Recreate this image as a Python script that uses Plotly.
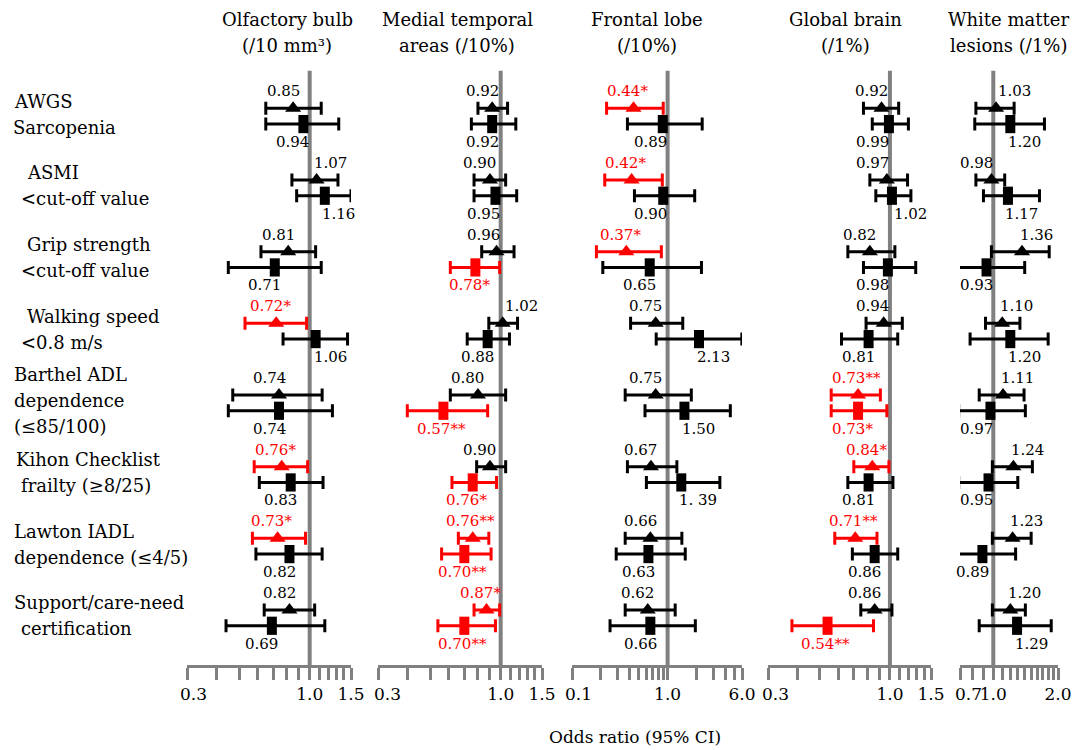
import math
import plotly.graph_objects as go

# ---------------- data ----------------
ROW_LABELS = [
    ["AWGS", "Sarcopenia"],
    ["ASMI", "&lt;cut-off value"],
    ["Grip strength", "&lt;cut-off value"],
    ["Walking speed", "&lt;0.8 m/s"],
    ["Barthel ADL", "dependence", "(≤85/100)"],
    ["Kihon Checklist", "frailty (≥8/25)"],
    ["Lawton IADL", "dependence (≤4/5)"],
    ["Support/care-need", "certification"],
]
PANEL_TITLES = [
    ["Olfactory bulb", "(/10 mm³)"],
    ["Medial temporal", "areas (/10%)"],
    ["Frontal lobe", "(/10%)"],
    ["Global brain", "(/1%)"],
    ["White matter", "lesions (/1%)"],
]
AXIS_MIN = [0.3, 0.3, 0.1, 0.3, 0.7]
AXIS_MAX = [1.5, 1.5, 6.0, 1.5, 2.0]
TICKS_STD = [0.3, 0.4, 0.5, 0.6, 0.7, 0.8, 0.9, 1.0, 1.1, 1.2, 1.3, 1.4, 1.5]
TICKS_FRONTAL = [0.1, 0.2, 0.3, 0.4, 0.5, 0.6, 0.7, 0.8, 0.9, 1.0, 2.0, 3.0, 4.0, 5.0, 6.0]
TICKS_WML = [0.7, 0.8, 0.9, 1.0, 1.1, 1.2, 1.3, 1.4, 1.5, 1.6, 1.7, 1.8, 1.9, 2.0]
LABELED_TICKS = [[0.3, 1.0, 1.5], [0.3, 1.0, 1.5], [0.1, 1.0, 6.0], [0.3, 1.0, 1.5], [0.7, 1.0, 2.0]]
LABELED_TEXT = [["0.3", "1.0", "1.5"], ["0.3", "1.0", "1.5"], ["0.1", "1.0", "6.0"],
                ["0.3", "1.0", "1.5"], ["0.7", "1.0", "2.0"]]
X_TITLE = "Odds ratio (95% CI)"

# Olfactory bulb
OB_A_OR = [0.85, 1.07, 0.81, 0.72, 0.74, 0.76, 0.73, 0.82]
OB_A_LO = [0.65, 0.84, 0.62, 0.53, 0.47, 0.58, 0.57, 0.64]
OB_A_HI = [1.12, 1.32, 1.06, 0.97, 1.13, 0.98, 0.96, 1.05]
OB_A_TXT = ["0.85", "1.07", "0.81", "0.72*", "0.74", "0.76*", "0.73*", "0.82"]
OB_B_OR = [0.94, 1.16, 0.71, 1.06, 0.74, 0.83, 0.82, 0.69]
OB_B_LO = [0.65, 0.88, 0.45, 0.77, 0.45, 0.61, 0.59, 0.44]
OB_B_HI = [1.33, 1.50, 1.12, 1.45, 1.25, 1.14, 1.13, 1.16]
OB_B_TXT = ["0.94", "1.16", "0.71", "1.06", "0.74", "0.83", "0.82", "0.69"]

# Medial temporal areas
MT_A_OR = [0.92, 0.90, 0.96, 1.02, 0.80, 0.90, 0.76, 0.87]
MT_A_LO = [0.80, 0.77, 0.83, 0.89, 0.61, 0.79, 0.66, 0.77]
MT_A_HI = [1.07, 1.05, 1.14, 1.18, 1.05, 1.05, 0.89, 0.99]
MT_A_TXT = ["0.92", "0.90", "0.96", "1.02", "0.80", "0.90", "0.76**", "0.87*"]
MT_B_OR = [0.92, 0.95, 0.78, 0.88, 0.57, 0.76, 0.70, 0.70]
MT_B_LO = [0.75, 0.77, 0.61, 0.72, 0.40, 0.62, 0.56, 0.54]
MT_B_HI = [1.16, 1.17, 0.99, 1.09, 0.88, 0.96, 0.91, 0.95]
MT_B_TXT = ["0.92", "0.95", "0.78*", "0.88", "0.57**", "0.76*", "0.70**", "0.70**"]

# Frontal lobe
FL_A_OR = [0.44, 0.42, 0.37, 0.75, 0.75, 0.67, 0.66, 0.62]
FL_A_LO = [0.23, 0.22, 0.18, 0.41, 0.36, 0.38, 0.36, 0.36]
FL_A_HI = [0.90, 0.88, 0.86, 1.44, 1.77, 1.25, 1.41, 1.20]
FL_A_TXT = ["0.44*", "0.42*", "0.37*", "0.75", "0.75", "0.67", "0.66", "0.62"]
FL_B_OR = [0.89, 0.90, 0.65, 2.13, 1.50, 1.39, 0.63, 0.66]
FL_B_LO = [0.38, 0.45, 0.21, 0.76, 0.58, 0.60, 0.29, 0.25]
FL_B_HI = [2.30, 1.92, 2.26, 5.98, 4.53, 3.52, 1.53, 1.95]
FL_B_TXT = ["0.89", "0.90", "0.65", "2.13", "1.50", "1. 39", "0.63", "0.66"]

# Global brain
GB_A_OR = [0.92, 0.97, 0.82, 0.94, 0.73, 0.84, 0.71, 0.86]
GB_A_LO = [0.77, 0.82, 0.66, 0.79, 0.56, 0.70, 0.58, 0.75]
GB_A_HI = [1.09, 1.19, 1.05, 1.13, 0.91, 0.99, 0.88, 1.02]
GB_A_TXT = ["0.92", "0.97", "0.82", "0.94", "0.73**", "0.84*", "0.71**", "0.86"]
GB_B_OR = [0.99, 1.02, 0.98, 0.81, 0.73, 0.81, 0.86, 0.54]
GB_B_LO = [0.84, 0.87, 0.77, 0.62, 0.56, 0.66, 0.69, 0.38]
GB_B_HI = [1.20, 1.23, 1.29, 1.08, 0.97, 1.03, 1.08, 0.85]
GB_B_TXT = ["0.99", "1.02", "0.98", "0.81", "0.73*", "0.81", "0.86", "0.54**"]

# White matter lesions
WM_A_OR = [1.03, 0.98, 1.36, 1.10, 1.11, 1.24, 1.23, 1.20]
WM_A_LO = [0.83, 0.83, 0.98, 0.92, 0.86, 0.99, 0.99, 0.99]
WM_A_HI = [1.25, 1.13, 1.82, 1.33, 1.39, 1.52, 1.50, 1.41]
WM_A_TXT = ["1.03", "0.98", "1.36", "1.10", "1.11", "1.24", "1.23", "1.20"]
WM_B_OR = [1.20, 1.17, 0.93, 1.20, 0.97, 0.95, 0.89, 1.29]
WM_B_LO = [0.82, 0.90, 0.66, 0.78, 0.69, 0.69, 0.64, 0.86]
WM_B_HI = [1.73, 1.64, 1.40, 1.80, 1.41, 1.30, 1.27, 1.86]
WM_B_TXT = ["1.20", "1.17", "0.93", "1.20", "0.97", "0.95", "0.89", "1.29"]

# ---------------- style / layout ----------------
FONT = "DejaVu Serif"
BLACK, RED, GRAY = "#000000", "#FF0000", "#808080"
W, H = 1075, 750
X_PX = [(187, 351), (378, 542), (572, 742), (768, 931), (960, 1058)]
TITLE_CX = [287, 457, 647, 845, 1008]
FIRST_TICK_SHIFT = [6, 9, 6, 7, 8]
Y_TOP_PX, Y_BOT_PX = 70, 665
ROW0_PX, ROW_STEP_PX = 116.2, 71.67
PAIR_OFF = 0.11
Y_TOP = (Y_TOP_PX - ROW0_PX) / ROW_STEP_PX
Y_BOT = (Y_BOT_PX - ROW0_PX) / ROW_STEP_PX

panels = [
    (OB_A_OR, OB_A_LO, OB_A_HI, OB_A_TXT, OB_B_OR, OB_B_LO, OB_B_HI, OB_B_TXT, TICKS_STD),
    (MT_A_OR, MT_A_LO, MT_A_HI, MT_A_TXT, MT_B_OR, MT_B_LO, MT_B_HI, MT_B_TXT, TICKS_STD),
    (FL_A_OR, FL_A_LO, FL_A_HI, FL_A_TXT, FL_B_OR, FL_B_LO, FL_B_HI, FL_B_TXT, TICKS_FRONTAL),
    (GB_A_OR, GB_A_LO, GB_A_HI, GB_A_TXT, GB_B_OR, GB_B_LO, GB_B_HI, GB_B_TXT, TICKS_STD),
    (WM_A_OR, WM_A_LO, WM_A_HI, WM_A_TXT, WM_B_OR, WM_B_LO, WM_B_HI, WM_B_TXT, TICKS_WML),
]

fig = go.Figure()
annotations = []
LABEL_SIZE = 15
NUM_W = 33.0  # width of the numeric part of a value label (px)

for p, (aor, alo, ahi, atxt, bor, blo, bhi, btxt, ticks) in enumerate(panels):
    xa = "x" if p == 0 else f"x{p + 1}"
    x0, x1 = X_PX[p]
    lo, hi = AXIS_MIN[p], AXIS_MAX[p]
    ppd = (x1 - x0) / (math.log10(hi) - math.log10(lo))

    def px_of(v):
        return x0 + (math.log10(v) - math.log10(lo)) * ppd

    line_px = px_of(1.0)

    # reference line at OR = 1
    fig.add_trace(go.Scatter(x=[1.0, 1.0], y=[Y_TOP + 0.01, Y_BOT], mode="lines",
                             line=dict(color=GRAY, width=4), xaxis=xa, yaxis="y",
                             hoverinfo="skip", showlegend=False))

    for ors, los, his, txts, off, sym in [(aor, alo, ahi, atxt, -PAIR_OFF, "triangle-up"),
                                          (bor, blo, bhi, btxt, PAIR_OFF, "line-ns")]:
        for color in (BLACK, RED):
            idx = [i for i in range(len(ors)) if ("*" in txts[i]) == (color == RED)]
            if not idx:
                continue
            if sym == "triangle-up":
                marker = dict(symbol=sym, size=14, color=color, line=dict(width=0))
            else:
                marker = dict(symbol=sym, size=13, color=color, line=dict(width=10, color=color))
            fig.add_trace(go.Scatter(
                x=[ors[i] for i in idx], y=[i + off for i in idx], mode="markers",
                marker=marker, xaxis=xa, yaxis="y", cliponaxis=False,
                error_x=dict(type="data", symmetric=False,
                             array=[his[i] - ors[i] for i in idx],
                             arrayminus=[ors[i] - los[i] for i in idx],
                             color=color, thickness=3, width=6.5),
                hoverinfo="skip", showlegend=False))
        for i, v in enumerate(ors):
            m = px_of(v)
            if v < 1:
                edge = min(m + 4.5, line_px - 2.5)
                xshift = -NUM_W
            else:
                edge = max(m - 4.5, line_px + 2.5)
                xshift = 0
            annotations.append(dict(
                x=math.log10(lo) + (edge - x0) / ppd, y=i + off, xref=xa, yref="y",
                text=txts[i], showarrow=False, xanchor="left", yanchor="middle",
                xshift=xshift, yshift=17 if off < 0 else -18,
                font=dict(family=FONT, size=LABEL_SIZE, color=RED if "*" in txts[i] else BLACK)))

    # panel title
    for k, line in enumerate(PANEL_TITLES[p]):
        annotations.append(dict(x=TITLE_CX[p] / W, y=1 - (20 + 25 * k) / H, xref="paper", yref="paper",
                                text=line, showarrow=False, xanchor="center", yanchor="middle",
                                font=dict(family=FONT, size=18, color=BLACK)))

    labeled = {round(t, 3): s for t, s in zip(LABELED_TICKS[p], LABELED_TEXT[p])}
    ticktext = []
    for t in ticks:
        s = labeled.get(round(t, 3), "")
        if s and abs(t - lo) < 1e-9:
            # first tick label sits slightly right of its tick, as in the original
            annotations.append(dict(x=math.log10(t), y=1 - 694 / H, xref=xa, yref="paper",
                                    text=s, showarrow=False, xanchor="center", yanchor="middle",
                                    xshift=FIRST_TICK_SHIFT[p],
                                    font=dict(family=FONT, size=17, color=BLACK)))
            s = ""
        ticktext.append(s)
    key = "xaxis" if p == 0 else f"xaxis{p + 1}"
    fig.layout[key] = dict(
        type="log", domain=[x0 / W, x1 / W], range=[math.log10(lo), math.log10(hi)],
        anchor="y", showgrid=False, zeroline=False, showline=True, linecolor=GRAY,
        linewidth=3, ticks="outside", ticklen=12, tickwidth=3, tickcolor=GRAY,
        tickmode="array", tickvals=ticks, ticktext=ticktext, tickangle=0, automargin=False,
        tickfont=dict(family=FONT, size=17, color=BLACK), fixedrange=True)

# row labels
ROW_X = [[12, 11], [25, 19], [25, 19], [25, 19], [12, 12, 12], [14, 19], [12, 12], [12, 19]]
for i, lines in enumerate(ROW_LABELS):
    n = len(lines)
    for k, line in enumerate(lines):
        annotations.append(dict(x=ROW_X[i][k] / W, y=i, xref="paper", yref="y",
                                yshift=((n - 1) / 2 - k) * 26 + 2,
                                text=line, showarrow=False, xanchor="left", yanchor="middle",
                                font=dict(family=FONT, size=18, color=BLACK)))

annotations.append(dict(x=635 / W, y=1 - 737 / H, xref="paper", yref="paper", text=X_TITLE,
                        showarrow=False, xanchor="center", yanchor="middle",
                        font=dict(family=FONT, size=17, color=BLACK)))

fig.update_layout(
    width=W, height=H, autosize=False,
    margin=dict(l=0, r=0, t=0, b=0, pad=0, autoexpand=False),
    paper_bgcolor="white", plot_bgcolor="white",
    yaxis=dict(domain=[1 - Y_BOT_PX / H, 1 - Y_TOP_PX / H], range=[Y_BOT, Y_TOP],
               visible=False, fixedrange=True, automargin=False),
    annotations=annotations, showlegend=False,
)

fig.write_html("out.html", config={"displayModeBar": False},
               post_script="document.body.style.margin='0';")
